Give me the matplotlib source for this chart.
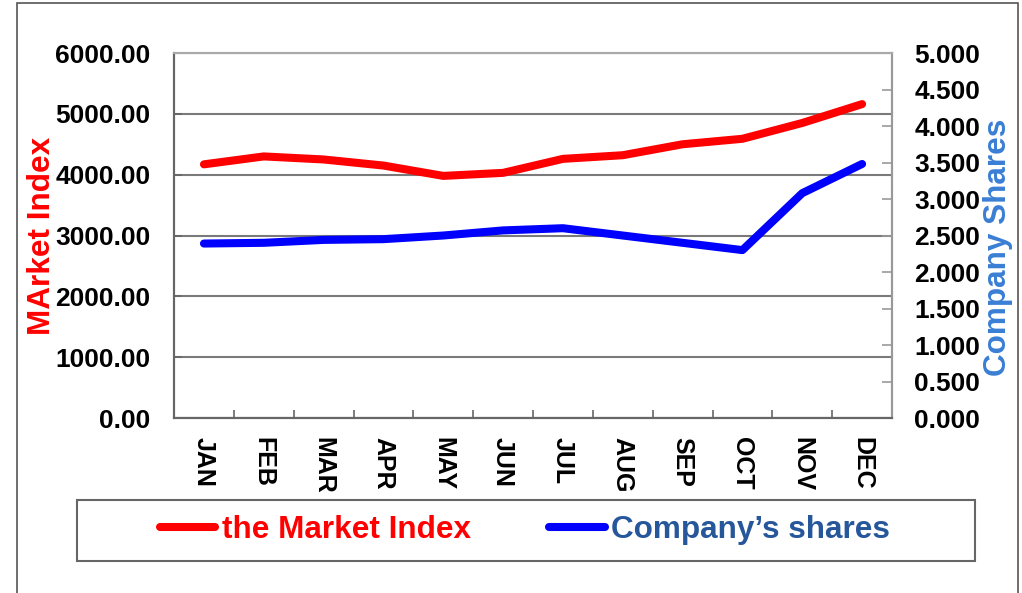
import matplotlib
matplotlib.use("Agg")
import matplotlib.pyplot as plt
from matplotlib.patches import Rectangle
from matplotlib.ticker import FormatStrFormatter, FixedLocator
import numpy as np

plt.rcParams['font.family'] = ['Liberation Sans', 'DejaVu Sans']
plt.rcParams['font.weight'] = 'bold'

months = ['JAN', 'FEB', 'MAR', 'APR', 'MAY', 'JUN',
          'JUL', 'AUG', 'SEP', 'OCT', 'NOV', 'DEC']
market_index = [4170, 4300, 4250, 4150, 3980, 4030,
                4260, 4320, 4500, 4590, 4850, 5160]
company_shares = [2.39, 2.40, 2.44, 2.45, 2.50, 2.57,
                  2.60, 2.50, 2.40, 2.30, 3.08, 3.48]

RED = '#ff0000'
BLUE = '#0000ff'
LABEL_BLUE = '#3a7fd5'
LEGEND_BLUE = '#27579b'
GRID = '#7a7a7a'
SPINE = '#666666'

fig = plt.figure(figsize=(10.22, 5.93), dpi=100)
ax = fig.add_axes([0.1703, 0.2951, 0.7025, 0.6155])
ax2 = ax.twinx()

x = np.arange(len(months))

# left axis: market index
ax.set_ylim(0, 6000)
ax.set_yticks(np.arange(0, 6001, 1000))
ax.yaxis.set_major_formatter(FormatStrFormatter('%.2f'))
ax.grid(axis='y', color=GRID, linewidth=1.5, zorder=0)
ax.set_axisbelow(True)

# x axis: ticks on the category boundaries, labels in the middle
ax.set_xlim(-0.5, len(months) - 0.5)
ax.xaxis.set_major_locator(FixedLocator(np.arange(-0.5, len(months), 1.0)))
ax.xaxis.set_major_formatter(plt.NullFormatter())
ax.xaxis.set_minor_locator(FixedLocator(x))
ax.set_xticklabels(months, minor=True, rotation=270, fontsize=18,
                   fontweight='bold', va='top', ha='center')
ax.tick_params(axis='x', which='minor', length=0, pad=14)
ax.tick_params(axis='x', which='major', direction='in', length=6,
               color=SPINE, width=1.2)
ax.tick_params(axis='y', direction='in', length=6, color=SPINE, width=1.2,
               labelsize=19, pad=17)

red_line, = ax.plot(x, market_index, color=RED, linewidth=5.8,
                    solid_capstyle='round', solid_joinstyle='round',
                    label='the Market Index', zorder=3)

# right axis: company shares
ax2.set_ylim(0, 5)
ax2.set_yticks(np.arange(0, 5.01, 0.5))
ax2.yaxis.set_major_formatter(FormatStrFormatter('%.3f'))
ax2.tick_params(axis='y', direction='in', length=7, color='#999999', width=1.2,
                labelsize=19, pad=16)
blue_line, = ax2.plot(x, company_shares, color=BLUE, linewidth=5.8,
                      solid_capstyle='round', solid_joinstyle='round',
                      label='Company\u2019s shares', zorder=3)

for a in (ax, ax2):
    for s in a.spines.values():
        s.set_color(SPINE)
        s.set_linewidth(1.5)
    a.spines['top'].set_color('#aaaaaa')
    a.spines['right'].set_color('#999999')

for lbl in ax.get_yticklabels() + ax2.get_yticklabels():
    lbl.set_fontweight('bold')

# axis titles
fig.text(42 / 1022, 1 - 236 / 593, 'MArket Index', rotation=90,
         ha='center', va='center', fontsize=22.7, fontweight='bold', color=RED)
fig.text(998 / 1022, 1 - 247 / 593, 'Company Shares', rotation=90,
         ha='center', va='center', fontsize=22.7, fontweight='bold',
         color=LABEL_BLUE)

# legend with its own box
leg = fig.legend(handles=[red_line, blue_line], ncol=2, frameon=False,
                 loc='center', bbox_to_anchor=(525 / 1022, 1 - 530 / 593),
                 fontsize=22.7, handlelength=1.75, handletextpad=0.2,
                 columnspacing=2.5, borderaxespad=0)
for txt, col in zip(leg.get_texts(), [RED, LEGEND_BLUE]):
    txt.set_color(col)
    txt.set_fontweight('bold')

fig.patches.append(Rectangle((77 / 1022, 1 - 561 / 593), 898 / 1022, 61 / 593,
                             transform=fig.transFigure, fill=False,
                             edgecolor='#666666', linewidth=1.5))
fig.patches.append(Rectangle((17 / 1022, -0.05), 1001 / 1022, 1.05 - 3 / 593,
                             transform=fig.transFigure, fill=False,
                             edgecolor='#555555', linewidth=1.2))

fig.savefig('out.png', dpi=100)
